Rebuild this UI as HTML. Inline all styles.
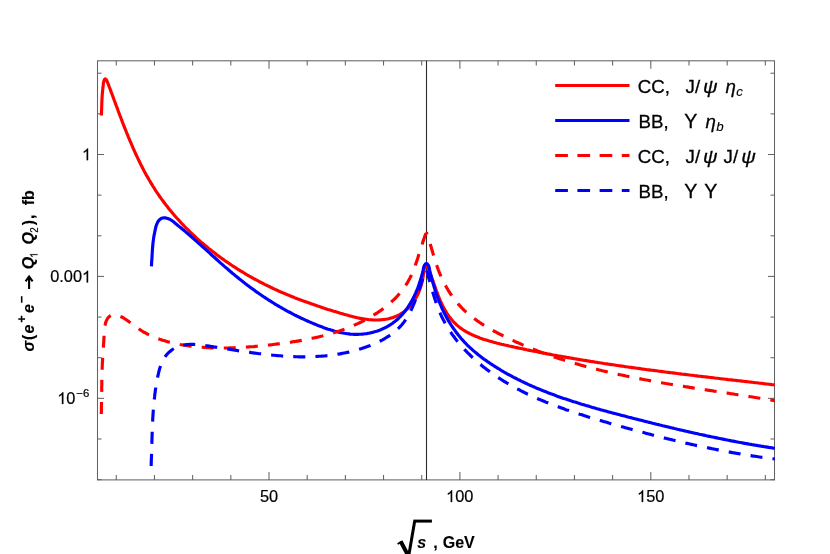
<!DOCTYPE html>
<html><head><meta charset="utf-8"><title>plot</title>
<style>
html,body{margin:0;padding:0;background:#fff;}
body{width:830px;height:554px;overflow:hidden;font-family:"Liberation Sans",sans-serif;}
svg{display:block;will-change:transform;filter:blur(0.35px);}
text{font-family:"Liberation Sans",sans-serif;fill:#000;}
.tl{font-size:16.35px;stroke:#000;stroke-width:0.2px;}
.lg{font-size:18.7px;stroke:#000;stroke-width:0.28px;}
.it{font-style:italic;}
.ax{font-size:16px;font-weight:bold;stroke:#000;stroke-width:0.12px;}
</style></head><body>
<svg width="830" height="554" viewBox="0 0 830 554">
<rect x="0" y="0" width="830" height="554" fill="#fff"/>
<defs><clipPath id="cp"><rect x="97.5" y="60.8" width="677.6" height="419.09999999999997"/></clipPath></defs>
<g stroke="#636363" stroke-width="1.05" fill="none">
<rect x="97.5" y="60.8" width="677.0" height="419.09999999999997"/>
<line x1="116.28" y1="479.90" x2="116.28" y2="475.10"/>
<line x1="116.28" y1="60.80" x2="116.28" y2="65.60"/>
<line x1="154.46" y1="479.90" x2="154.46" y2="475.10"/>
<line x1="154.46" y1="60.80" x2="154.46" y2="65.60"/>
<line x1="192.64" y1="479.90" x2="192.64" y2="475.10"/>
<line x1="192.64" y1="60.80" x2="192.64" y2="65.60"/>
<line x1="230.82" y1="479.90" x2="230.82" y2="475.10"/>
<line x1="230.82" y1="60.80" x2="230.82" y2="65.60"/>
<line x1="269.00" y1="479.90" x2="269.00" y2="471.90"/>
<line x1="269.00" y1="60.80" x2="269.00" y2="68.80"/>
<line x1="307.18" y1="479.90" x2="307.18" y2="475.10"/>
<line x1="307.18" y1="60.80" x2="307.18" y2="65.60"/>
<line x1="345.36" y1="479.90" x2="345.36" y2="475.10"/>
<line x1="345.36" y1="60.80" x2="345.36" y2="65.60"/>
<line x1="383.54" y1="479.90" x2="383.54" y2="475.10"/>
<line x1="383.54" y1="60.80" x2="383.54" y2="65.60"/>
<line x1="421.72" y1="479.90" x2="421.72" y2="475.10"/>
<line x1="421.72" y1="60.80" x2="421.72" y2="65.60"/>
<line x1="459.90" y1="479.90" x2="459.90" y2="471.90"/>
<line x1="459.90" y1="60.80" x2="459.90" y2="68.80"/>
<line x1="498.08" y1="479.90" x2="498.08" y2="475.10"/>
<line x1="498.08" y1="60.80" x2="498.08" y2="65.60"/>
<line x1="536.26" y1="479.90" x2="536.26" y2="475.10"/>
<line x1="536.26" y1="60.80" x2="536.26" y2="65.60"/>
<line x1="574.44" y1="479.90" x2="574.44" y2="475.10"/>
<line x1="574.44" y1="60.80" x2="574.44" y2="65.60"/>
<line x1="612.62" y1="479.90" x2="612.62" y2="475.10"/>
<line x1="612.62" y1="60.80" x2="612.62" y2="65.60"/>
<line x1="650.80" y1="479.90" x2="650.80" y2="471.90"/>
<line x1="650.80" y1="60.80" x2="650.80" y2="68.80"/>
<line x1="688.98" y1="479.90" x2="688.98" y2="475.10"/>
<line x1="688.98" y1="60.80" x2="688.98" y2="65.60"/>
<line x1="727.16" y1="479.90" x2="727.16" y2="475.10"/>
<line x1="727.16" y1="60.80" x2="727.16" y2="65.60"/>
<line x1="765.34" y1="479.90" x2="765.34" y2="475.10"/>
<line x1="765.34" y1="60.80" x2="765.34" y2="65.60"/>
<line x1="97.50" y1="479.62" x2="101.50" y2="479.62"/>
<line x1="774.50" y1="479.62" x2="770.50" y2="479.62"/>
<line x1="97.50" y1="438.98" x2="101.50" y2="438.98"/>
<line x1="774.50" y1="438.98" x2="770.50" y2="438.98"/>
<line x1="97.50" y1="398.34" x2="104.00" y2="398.34"/>
<line x1="774.50" y1="398.34" x2="768.00" y2="398.34"/>
<line x1="97.50" y1="357.70" x2="101.50" y2="357.70"/>
<line x1="774.50" y1="357.70" x2="770.50" y2="357.70"/>
<line x1="97.50" y1="317.06" x2="101.50" y2="317.06"/>
<line x1="774.50" y1="317.06" x2="770.50" y2="317.06"/>
<line x1="97.50" y1="276.42" x2="104.00" y2="276.42"/>
<line x1="774.50" y1="276.42" x2="768.00" y2="276.42"/>
<line x1="97.50" y1="235.78" x2="101.50" y2="235.78"/>
<line x1="774.50" y1="235.78" x2="770.50" y2="235.78"/>
<line x1="97.50" y1="195.14" x2="101.50" y2="195.14"/>
<line x1="774.50" y1="195.14" x2="770.50" y2="195.14"/>
<line x1="97.50" y1="154.50" x2="104.00" y2="154.50"/>
<line x1="774.50" y1="154.50" x2="768.00" y2="154.50"/>
<line x1="97.50" y1="113.86" x2="101.50" y2="113.86"/>
<line x1="774.50" y1="113.86" x2="770.50" y2="113.86"/>
<line x1="97.50" y1="73.22" x2="101.50" y2="73.22"/>
<line x1="774.50" y1="73.22" x2="770.50" y2="73.22"/>
</g>
<line x1="426.5" y1="60.8" x2="426.5" y2="479.9" stroke="#2a2a2a" stroke-width="1.08"/>
<g clip-path="url(#cp)" fill="none" stroke-width="3.15" stroke-linejoin="round">
<path d="M101.4,115.5 L101.4,114.4 L101.5,113.4 L101.5,112.3 L101.5,111.2 L101.6,110.1 L101.6,109.1 L101.7,108.0 L101.7,106.9 L101.7,105.9 L101.8,104.8 L101.8,103.7 L101.8,102.6 L101.9,101.6 L101.9,100.5 L102.0,99.4 L102.0,98.4 L102.1,97.3 L102.2,96.2 L102.2,95.2 L102.3,94.1 L102.4,93.0 L102.5,92.0 L102.6,90.9 L102.7,89.8 L102.8,88.8 L102.9,87.7 L103.0,86.6 L103.2,85.6 L103.3,84.5 L103.3,84.3 L103.3,84.0 L103.4,83.6 L103.4,83.1 L103.5,82.6 L103.7,82.1 L103.8,81.5 L103.9,80.9 L104.1,80.4 L104.3,79.9 L104.5,79.5 L104.7,79.2 L105.0,79.0 L105.2,78.9 L105.5,79.0 L105.8,79.2 L106.0,79.5 L106.3,79.9 L106.6,80.3 L106.9,80.8 L107.1,81.4 L107.4,81.9 L107.6,82.5 L107.8,83.0 L108.0,83.5 L108.1,83.9 L108.3,84.2 L108.3,84.4 L108.4,84.5 L108.9,85.9 L109.4,87.3 L110.0,88.7 L110.5,90.1 L111.0,91.5 L111.5,92.9 L112.1,94.3 L112.6,95.7 L113.1,97.1 L113.6,98.5 L114.1,100.0 L114.7,101.4 L115.2,102.8 L115.7,104.2 L116.2,105.6 L116.8,107.0 L117.3,108.4 L117.8,109.8 L118.3,111.3 L118.9,112.7 L119.4,114.1 L119.9,115.5 L120.5,116.9 L121.0,118.3 L121.5,119.7 L122.1,121.2 L122.6,122.6 L123.2,124.0 L123.7,125.4 L124.3,126.8 L124.8,128.2 L125.4,129.6 L126.0,131.0 L126.5,132.4 L127.1,133.8 L127.7,135.2 L128.2,136.6 L128.8,138.0 L129.4,139.4 L130.0,140.8 L130.6,142.2 L131.2,143.6 L131.8,145.0 L132.4,146.4 L133.0,147.8 L133.6,149.2 L134.2,150.5 L134.8,151.9 L135.4,153.3 L136.1,154.7 L136.7,156.0 L137.4,157.4 L138.0,158.7 L138.7,160.1 L139.3,161.5 L140.0,162.8 L140.6,164.2 L141.3,165.5 L142.0,166.8 L142.7,168.2 L143.4,169.5 L144.1,170.9 L144.8,172.2 L145.5,173.5 L146.2,174.8 L147.0,176.1 L147.7,177.4 L148.5,178.7 L149.2,180.0 L150.0,181.3 L150.7,182.6 L151.5,183.9 L152.3,185.2 L153.1,186.5 L153.9,187.7 L154.7,189.0 L155.5,190.3 L156.3,191.5 L157.2,192.8 L158.0,194.0 L158.8,195.2 L159.7,196.5 L160.6,197.7 L161.4,198.9 L162.3,200.1 L163.2,201.3 L164.1,202.5 L165.0,203.7 L165.9,204.9 L166.9,206.1 L167.8,207.3 L168.7,208.5 L169.7,209.7 L170.6,210.8 L171.6,212.0 L172.5,213.1 L173.5,214.3 L174.5,215.4 L175.5,216.6 L176.5,217.7 L177.5,218.8 L178.5,219.9 L179.5,221.0 L180.5,222.1 L181.6,223.3 L182.6,224.3 L183.6,225.4 L184.7,226.5 L185.7,227.6 L186.8,228.7 L187.9,229.7 L189.0,230.8 L190.0,231.9 L191.1,232.9 L192.2,233.9 L193.3,235.0 L194.4,236.0 L195.5,237.0 L196.6,238.1 L197.8,239.1 L198.9,240.1 L200.0,241.1 L201.2,242.1 L202.3,243.1 L203.5,244.0 L204.6,245.0 L205.8,246.0 L207.0,247.0 L208.1,247.9 L209.3,248.9 L210.5,249.8 L211.7,250.8 L212.9,251.7 L214.1,252.6 L215.3,253.5 L216.5,254.5 L217.7,255.4 L218.9,256.3 L220.1,257.2 L221.3,258.1 L222.6,258.9 L223.8,259.8 L225.0,260.7 L226.3,261.6 L227.5,262.4 L228.8,263.3 L230.0,264.1 L231.3,265.0 L232.5,265.8 L233.8,266.6 L235.1,267.4 L236.4,268.3 L237.6,269.1 L238.9,269.9 L240.2,270.7 L241.5,271.5 L242.8,272.2 L244.1,273.0 L245.4,273.8 L246.7,274.6 L248.0,275.3 L249.3,276.1 L250.6,276.8 L251.9,277.5 L253.2,278.3 L254.5,279.0 L255.8,279.7 L257.2,280.4 L258.5,281.1 L259.8,281.8 L261.1,282.5 L262.5,283.2 L263.8,283.9 L265.1,284.6 L266.5,285.2 L267.8,285.9 L269.2,286.5 L270.5,287.2 L271.9,287.8 L273.2,288.5 L274.6,289.1 L275.9,289.7 L277.3,290.3 L278.6,291.0 L280.0,291.6 L281.4,292.2 L282.7,292.8 L284.1,293.3 L285.5,293.9 L286.8,294.5 L288.2,295.1 L289.6,295.6 L291.0,296.2 L292.4,296.8 L293.7,297.3 L295.1,297.9 L296.5,298.4 L297.9,299.0 L299.3,299.5 L300.7,300.0 L302.1,300.5 L303.5,301.1 L304.9,301.6 L306.3,302.1 L307.8,302.6 L309.2,303.1 L310.6,303.6 L312.0,304.1 L313.4,304.6 L314.9,305.1 L316.3,305.6 L317.7,306.1 L319.2,306.5 L320.6,307.0 L322.0,307.5 L323.5,308.0 L324.9,308.4 L326.4,308.9 L327.8,309.4 L329.3,309.8 L330.8,310.3 L332.2,310.7 L333.7,311.2 L335.1,311.6 L336.6,312.1 L338.1,312.5 L339.6,313.0 L341.1,313.4 L342.5,313.8 L344.0,314.3 L345.5,314.7 L347.0,315.1 L348.5,315.5 L350.0,315.9 L351.5,316.3 L353.0,316.7 L354.5,317.1 L356.0,317.4 L357.5,317.8 L359.0,318.1 L360.5,318.4 L362.0,318.6 L363.5,318.9 L365.0,319.1 L366.5,319.3 L367.9,319.5 L369.4,319.7 L370.9,319.8 L372.4,319.9 L373.9,320.0 L375.4,320.0 L376.9,320.0 L378.4,320.0 L379.8,319.9 L381.3,319.8 L382.8,319.6 L384.2,319.5 L385.7,319.2 L387.1,319.0 L388.6,318.7 L390.0,318.3 L391.4,317.9 L392.8,317.5 L394.2,317.0 L395.5,316.5 L396.9,315.9 L398.2,315.3 L399.5,314.6 L400.7,313.9 L402.0,313.1 L403.2,312.3 L404.4,311.4 L405.5,310.5 L406.6,309.6 L407.7,308.6 L408.8,307.5 L409.8,306.5 L410.8,305.3 L411.7,304.2 L412.6,303.0 L413.5,301.8 L414.4,300.5 L415.2,299.2 L416.0,297.9 L416.7,296.5 L417.4,295.2 L418.1,293.8 L418.7,292.3 L419.3,290.9 L419.8,289.4 L420.3,288.0 L420.8,286.5 L421.3,285.0 L421.7,283.5 L422.0,282.0 L422.4,280.5 L422.7,279.0 L423.0,277.5 L423.2,276.0 L423.4,274.5 L423.6,273.1 L423.7,271.6 L423.7,271.3 L423.7,270.9 L423.7,270.5 L423.8,270.0 L424.0,269.6 L424.1,269.1 L424.3,268.6 L424.6,268.1 L424.8,267.6 L425.1,267.2 L425.4,266.9 L425.7,266.6 L426.0,266.4 L426.3,266.3 L426.6,266.3 L426.9,266.4 L427.2,266.6 L427.5,266.9 L427.7,267.3 L428.0,267.7 L428.3,268.1 L428.5,268.6 L428.7,269.1 L428.9,269.6 L429.0,270.1 L429.2,270.5 L429.2,271.0 L429.3,271.3 L429.3,271.6 L429.9,272.9 L430.4,274.3 L431.0,275.7 L431.5,277.1 L432.0,278.5 L432.6,279.9 L433.1,281.3 L433.6,282.7 L434.1,284.2 L434.6,285.6 L435.1,287.1 L435.6,288.5 L436.1,290.0 L436.6,291.4 L437.2,292.9 L437.7,294.3 L438.3,295.8 L438.8,297.2 L439.4,298.6 L440.0,300.0 L440.6,301.4 L441.2,302.8 L441.9,304.2 L442.6,305.6 L443.3,306.9 L444.0,308.2 L444.7,309.6 L445.5,310.9 L446.2,312.1 L447.0,313.4 L447.9,314.6 L448.7,315.9 L449.6,317.1 L450.5,318.2 L451.4,319.4 L452.4,320.5 L453.3,321.6 L454.3,322.6 L455.4,323.7 L456.4,324.7 L457.5,325.6 L458.7,326.6 L459.8,327.5 L461.0,328.4 L462.2,329.2 L463.4,330.0 L464.7,330.8 L466.0,331.6 L467.3,332.3 L468.6,333.0 L469.9,333.7 L471.3,334.4 L472.7,335.0 L474.1,335.6 L475.5,336.2 L476.9,336.8 L478.3,337.3 L479.7,337.9 L481.2,338.4 L482.6,338.9 L484.1,339.4 L485.5,339.8 L487.0,340.3 L488.5,340.8 L489.9,341.2 L491.4,341.6 L492.9,342.0 L494.3,342.4 L495.8,342.8 L497.3,343.2 L498.7,343.5 L500.2,343.9 L501.7,344.3 L503.2,344.6 L504.6,345.0 L506.1,345.3 L507.6,345.6 L509.1,346.0 L510.5,346.3 L512.0,346.6 L513.5,346.9 L515.0,347.3 L516.4,347.6 L517.9,347.9 L519.4,348.2 L520.9,348.5 L522.4,348.8 L523.8,349.1 L525.3,349.4 L526.8,349.8 L528.3,350.1 L529.8,350.4 L531.2,350.7 L532.7,351.0 L534.2,351.3 L535.7,351.5 L537.2,351.8 L538.6,352.1 L540.1,352.4 L541.6,352.7 L543.1,353.0 L544.6,353.3 L546.0,353.6 L547.5,353.9 L549.0,354.1 L550.5,354.4 L552.0,354.7 L553.5,355.0 L555.0,355.2 L556.4,355.5 L557.9,355.8 L559.4,356.0 L560.9,356.3 L562.4,356.6 L563.9,356.8 L565.3,357.1 L566.8,357.4 L568.3,357.6 L569.8,357.9 L571.3,358.1 L572.8,358.4 L574.3,358.7 L575.8,358.9 L577.2,359.2 L578.7,359.4 L580.2,359.7 L581.7,359.9 L583.2,360.2 L584.7,360.4 L586.2,360.6 L587.7,360.9 L589.2,361.1 L590.6,361.4 L592.1,361.6 L593.6,361.8 L595.1,362.1 L596.6,362.3 L598.1,362.6 L599.6,362.8 L601.1,363.0 L602.6,363.2 L604.1,363.5 L605.6,363.7 L607.0,363.9 L608.5,364.2 L610.0,364.4 L611.5,364.6 L613.0,364.8 L614.5,365.0 L616.0,365.3 L617.5,365.5 L619.0,365.7 L620.5,365.9 L622.0,366.1 L623.5,366.3 L625.0,366.6 L626.4,366.8 L627.9,367.0 L629.4,367.2 L630.9,367.4 L632.4,367.6 L633.9,367.8 L635.4,368.0 L636.9,368.2 L638.4,368.4 L639.9,368.6 L641.4,368.9 L642.9,369.1 L644.4,369.3 L645.9,369.5 L647.4,369.7 L648.9,369.9 L650.4,370.1 L651.9,370.3 L653.4,370.4 L654.9,370.6 L656.4,370.8 L657.8,371.0 L659.3,371.2 L660.8,371.4 L662.3,371.6 L663.8,371.8 L665.3,372.0 L666.8,372.2 L668.3,372.4 L669.8,372.6 L671.3,372.8 L672.8,372.9 L674.3,373.1 L675.8,373.3 L677.3,373.5 L678.8,373.7 L680.3,373.9 L681.8,374.1 L683.3,374.2 L684.8,374.4 L686.3,374.6 L687.8,374.8 L689.3,375.0 L690.8,375.2 L692.3,375.3 L693.8,375.5 L695.3,375.7 L696.8,375.9 L698.3,376.1 L699.8,376.2 L701.3,376.4 L702.8,376.6 L704.3,376.8 L705.8,376.9 L707.3,377.1 L708.8,377.3 L710.3,377.5 L711.8,377.6 L713.3,377.8 L714.8,378.0 L716.3,378.2 L717.8,378.3 L719.3,378.5 L720.8,378.7 L722.3,378.9 L723.8,379.0 L725.3,379.2 L726.8,379.4 L728.3,379.6 L729.8,379.7 L731.3,379.9 L732.8,380.1 L734.3,380.3 L735.8,380.4 L737.3,380.6 L738.8,380.8 L740.3,380.9 L741.8,381.1 L743.3,381.3 L744.8,381.5 L746.3,381.6 L747.8,381.8 L749.3,382.0 L750.8,382.1 L752.3,382.3 L753.8,382.5 L755.3,382.7 L756.8,382.8 L758.3,383.0 L759.8,383.2 L761.3,383.3 L762.8,383.5 L764.3,383.7 L765.8,383.9 L767.3,384.0 L768.8,384.2 L770.3,384.4 L771.8,384.6 L773.3,384.7 L774.8,384.9" stroke="#ff0000"/>
<path d="M151.4,266.4 L151.5,265.2 L151.6,264.0 L151.6,262.9 L151.7,261.7 L151.8,260.5 L151.9,259.3 L151.9,258.1 L152.0,257.0 L152.1,255.8 L152.1,254.6 L152.2,253.4 L152.3,252.2 L152.3,251.1 L152.4,249.9 L152.5,248.7 L152.6,247.5 L152.7,246.3 L152.8,245.2 L152.9,244.0 L153.0,242.8 L153.2,241.6 L153.3,240.5 L153.5,239.3 L153.6,238.1 L153.8,236.9 L154.0,235.8 L154.2,234.6 L154.5,233.5 L154.7,232.3 L154.9,231.4 L155.1,230.4 L155.3,229.3 L155.6,228.2 L155.8,227.1 L156.1,226.0 L156.5,224.9 L156.9,223.9 L157.4,222.8 L157.9,221.8 L158.5,220.9 L159.2,220.1 L160.0,219.3 L160.8,218.7 L161.7,218.3 L162.7,218.0 L163.6,217.8 L164.7,217.8 L165.7,217.9 L166.8,218.2 L167.8,218.5 L168.9,218.9 L169.9,219.4 L170.9,220.0 L171.9,220.6 L172.8,221.3 L173.7,221.9 L174.5,222.6 L175.2,223.3 L176.4,224.2 L177.6,225.2 L178.7,226.1 L179.9,227.1 L181.1,228.0 L182.2,229.0 L183.4,229.9 L184.5,230.9 L185.7,231.9 L186.8,232.9 L188.0,233.8 L189.1,234.8 L190.3,235.8 L191.4,236.8 L192.5,237.8 L193.7,238.8 L194.8,239.8 L195.9,240.8 L197.1,241.8 L198.2,242.8 L199.3,243.8 L200.5,244.8 L201.6,245.8 L202.7,246.9 L203.8,247.9 L205.0,248.9 L206.1,249.9 L207.2,250.9 L208.3,251.9 L209.5,252.9 L210.6,254.0 L211.7,255.0 L212.8,256.0 L214.0,257.0 L215.1,258.0 L216.2,259.0 L217.3,260.0 L218.5,261.1 L219.6,262.1 L220.7,263.1 L221.9,264.1 L223.0,265.1 L224.1,266.1 L225.3,267.1 L226.4,268.1 L227.6,269.0 L228.7,270.0 L229.8,271.0 L231.0,272.0 L232.1,273.0 L233.3,273.9 L234.5,274.9 L235.6,275.9 L236.8,276.8 L238.0,277.8 L239.1,278.7 L240.3,279.6 L241.5,280.6 L242.7,281.5 L243.9,282.4 L245.0,283.4 L246.2,284.3 L247.4,285.2 L248.6,286.1 L249.8,287.0 L251.0,287.9 L252.3,288.8 L253.5,289.6 L254.7,290.5 L255.9,291.4 L257.1,292.3 L258.4,293.1 L259.6,294.0 L260.8,294.8 L262.1,295.7 L263.3,296.5 L264.6,297.3 L265.8,298.2 L267.1,299.0 L268.3,299.8 L269.6,300.6 L270.9,301.4 L272.1,302.2 L273.4,303.0 L274.7,303.8 L276.0,304.6 L277.3,305.3 L278.6,306.1 L279.9,306.9 L281.2,307.6 L282.5,308.4 L283.8,309.1 L285.1,309.8 L286.4,310.6 L287.7,311.3 L289.1,312.0 L290.4,312.7 L291.7,313.4 L293.1,314.1 L294.4,314.8 L295.8,315.5 L297.1,316.2 L298.5,316.8 L299.9,317.5 L301.2,318.2 L302.6,318.8 L304.0,319.4 L305.4,320.1 L306.8,320.7 L308.1,321.3 L309.5,321.9 L311.0,322.5 L312.4,323.1 L313.8,323.7 L315.2,324.3 L316.6,324.9 L318.0,325.5 L319.5,326.0 L320.9,326.6 L322.4,327.1 L323.8,327.7 L325.3,328.2 L326.7,328.7 L328.2,329.2 L329.6,329.6 L331.1,330.1 L332.6,330.5 L334.0,331.0 L335.5,331.4 L337.0,331.7 L338.5,332.1 L339.9,332.4 L341.4,332.7 L342.9,333.0 L344.4,333.3 L345.9,333.5 L347.4,333.7 L348.9,333.9 L350.3,334.1 L351.8,334.2 L353.3,334.3 L354.8,334.3 L356.3,334.4 L357.8,334.4 L359.3,334.3 L360.8,334.2 L362.3,334.1 L363.7,334.0 L365.2,333.8 L366.7,333.6 L368.1,333.3 L369.6,333.1 L371.1,332.7 L372.5,332.4 L373.9,332.0 L375.4,331.6 L376.8,331.2 L378.2,330.7 L379.6,330.2 L380.9,329.6 L382.3,329.0 L383.6,328.4 L385.0,327.8 L386.3,327.1 L387.6,326.4 L388.9,325.6 L390.1,324.9 L391.4,324.0 L392.6,323.2 L393.8,322.3 L395.0,321.4 L396.1,320.5 L397.3,319.5 L398.4,318.5 L399.4,317.5 L400.5,316.4 L401.5,315.3 L402.5,314.2 L403.5,313.0 L404.5,311.9 L405.4,310.7 L406.3,309.4 L407.2,308.2 L408.1,306.9 L408.9,305.6 L409.7,304.3 L410.5,303.0 L411.3,301.7 L412.1,300.3 L412.8,298.9 L413.5,297.6 L414.2,296.2 L414.8,294.8 L415.5,293.3 L416.1,291.9 L416.7,290.5 L417.3,289.1 L417.9,287.6 L418.4,286.2 L418.9,284.7 L419.4,283.3 L419.9,281.8 L420.4,280.4 L420.8,278.9 L421.2,277.5 L421.6,276.1 L422.0,274.6 L422.4,273.2 L422.7,271.8 L423.1,270.4 L423.4,269.0 L423.4,268.7 L423.4,268.3 L423.5,267.9 L423.7,267.4 L423.8,266.9 L424.0,266.4 L424.2,265.9 L424.5,265.4 L424.7,265.0 L425.0,264.6 L425.3,264.2 L425.6,263.9 L425.9,263.7 L426.2,263.6 L426.6,263.6 L426.9,263.7 L427.2,263.9 L427.5,264.2 L427.8,264.6 L428.1,265.0 L428.3,265.4 L428.6,265.9 L428.8,266.4 L429.0,266.9 L429.1,267.4 L429.3,267.9 L429.4,268.3 L429.4,268.7 L429.4,269.0 L429.7,270.4 L430.1,271.9 L430.4,273.4 L430.8,274.8 L431.2,276.3 L431.5,277.7 L431.9,279.2 L432.3,280.6 L432.7,282.1 L433.1,283.5 L433.6,285.0 L434.0,286.5 L434.4,287.9 L434.9,289.3 L435.3,290.8 L435.8,292.2 L436.3,293.7 L436.8,295.1 L437.3,296.5 L437.8,298.0 L438.4,299.4 L438.9,300.8 L439.5,302.2 L440.0,303.6 L440.6,305.0 L441.2,306.4 L441.8,307.8 L442.4,309.2 L443.1,310.5 L443.7,311.9 L444.4,313.2 L445.1,314.6 L445.8,315.9 L446.5,317.2 L447.2,318.6 L448.0,319.9 L448.7,321.2 L449.5,322.4 L450.3,323.7 L451.1,325.0 L451.9,326.2 L452.8,327.5 L453.6,328.7 L454.5,329.9 L455.4,331.2 L456.2,332.4 L457.2,333.5 L458.1,334.7 L459.0,335.9 L460.0,337.0 L460.9,338.2 L461.9,339.3 L462.9,340.4 L463.9,341.5 L464.9,342.6 L466.0,343.7 L467.0,344.8 L468.1,345.8 L469.2,346.9 L470.3,347.9 L471.4,348.9 L472.5,349.9 L473.6,350.9 L474.8,351.9 L475.9,352.8 L477.1,353.8 L478.2,354.7 L479.4,355.6 L480.6,356.6 L481.8,357.5 L483.0,358.4 L484.2,359.3 L485.5,360.1 L486.7,361.0 L487.9,361.9 L489.2,362.7 L490.4,363.6 L491.7,364.4 L492.9,365.2 L494.2,366.0 L495.5,366.9 L496.8,367.6 L498.0,368.4 L499.3,369.2 L500.6,370.0 L501.9,370.8 L503.2,371.5 L504.5,372.3 L505.8,373.0 L507.1,373.8 L508.4,374.5 L509.8,375.2 L511.1,375.9 L512.4,376.6 L513.7,377.3 L515.1,378.0 L516.4,378.7 L517.7,379.4 L519.1,380.0 L520.4,380.7 L521.8,381.4 L523.1,382.0 L524.5,382.7 L525.9,383.3 L527.2,383.9 L528.6,384.6 L530.0,385.2 L531.3,385.8 L532.7,386.4 L534.1,387.0 L535.5,387.6 L536.8,388.2 L538.2,388.8 L539.6,389.3 L541.0,389.9 L542.4,390.5 L543.8,391.0 L545.2,391.6 L546.6,392.1 L548.0,392.7 L549.4,393.2 L550.8,393.8 L552.3,394.3 L553.7,394.8 L555.1,395.3 L556.5,395.9 L557.9,396.4 L559.3,396.9 L560.8,397.4 L562.2,397.9 L563.6,398.4 L565.1,398.8 L566.5,399.3 L567.9,399.8 L569.4,400.3 L570.8,400.8 L572.2,401.2 L573.7,401.7 L575.1,402.1 L576.6,402.6 L578.0,403.1 L579.5,403.5 L580.9,404.0 L582.4,404.4 L583.8,404.8 L585.3,405.3 L586.7,405.7 L588.2,406.1 L589.6,406.6 L591.1,407.0 L592.5,407.4 L594.0,407.8 L595.5,408.2 L596.9,408.7 L598.4,409.1 L599.8,409.5 L601.3,409.9 L602.8,410.3 L604.2,410.7 L605.7,411.1 L607.2,411.5 L608.6,411.9 L610.1,412.3 L611.6,412.7 L613.0,413.1 L614.5,413.4 L615.9,413.8 L617.4,414.2 L618.9,414.6 L620.3,415.0 L621.8,415.4 L623.3,415.7 L624.7,416.1 L626.2,416.5 L627.7,416.9 L629.1,417.3 L630.6,417.6 L632.1,418.0 L633.5,418.4 L635.0,418.8 L636.4,419.1 L637.9,419.5 L639.4,419.9 L640.8,420.2 L642.3,420.6 L643.7,421.0 L645.2,421.4 L646.7,421.7 L648.1,422.1 L649.6,422.4 L651.0,422.8 L652.5,423.2 L654.0,423.5 L655.4,423.9 L656.9,424.3 L658.3,424.6 L659.8,425.0 L661.3,425.3 L662.7,425.7 L664.2,426.0 L665.6,426.4 L667.1,426.7 L668.6,427.1 L670.0,427.4 L671.5,427.8 L672.9,428.1 L674.4,428.5 L675.8,428.8 L677.3,429.2 L678.8,429.5 L680.2,429.9 L681.7,430.2 L683.1,430.5 L684.6,430.9 L686.1,431.2 L687.5,431.5 L689.0,431.9 L690.5,432.2 L691.9,432.5 L693.4,432.9 L694.8,433.2 L696.3,433.5 L697.8,433.8 L699.2,434.2 L700.7,434.5 L702.2,434.8 L703.6,435.1 L705.1,435.4 L706.6,435.8 L708.0,436.1 L709.5,436.4 L711.0,436.7 L712.4,437.0 L713.9,437.3 L715.4,437.6 L716.8,437.9 L718.3,438.2 L719.8,438.5 L721.2,438.8 L722.7,439.1 L724.2,439.4 L725.7,439.7 L727.1,440.0 L728.6,440.3 L730.1,440.6 L731.6,440.9 L733.0,441.1 L734.5,441.4 L736.0,441.7 L737.5,442.0 L739.0,442.3 L740.4,442.5 L741.9,442.8 L743.4,443.1 L744.9,443.4 L746.4,443.6 L747.9,443.9 L749.4,444.2 L750.8,444.4 L752.3,444.7 L753.8,444.9 L755.3,445.2 L756.8,445.4 L758.3,445.7 L759.8,445.9 L761.3,446.2 L762.8,446.4 L764.3,446.7 L765.8,446.9 L767.3,447.1 L768.8,447.4 L770.3,447.6 L771.8,447.8 L773.3,448.1 L774.8,448.3" stroke="#0000ff"/>
<path d="M101.3,414.0 L101.3,412.5 L101.4,411.1 L101.4,409.6 L101.4,408.1 L101.4,406.6 L101.5,405.1 L101.5,403.6 L101.5,402.1 L101.5,400.6 L101.5,399.1 L101.6,397.5 L101.6,396.0 L101.6,394.5 L101.6,393.0 L101.7,391.4 L101.7,389.9 L101.7,388.4 L101.7,386.8 L101.8,385.3 L101.8,383.8 L101.8,382.3 L101.8,380.7 L101.9,379.2 L101.9,377.7 L101.9,376.1 L102.0,374.6 L102.0,373.1 L102.1,371.6 L102.1,370.1 L102.2,368.6 L102.2,367.1 L102.3,365.6 L102.3,364.1 L102.4,362.6 L102.5,361.1 L102.6,359.7 L102.6,358.2 L102.7,356.8 L102.8,355.3 L102.9,353.9 L103.0,352.4 L103.1,351.0 L103.2,349.5 L103.3,348.1 L103.4,346.6 L103.5,345.1 L103.6,343.6 L103.7,342.1 L103.8,340.6 L103.9,339.0 L104.0,337.4 L104.1,335.8 L104.1,334.1 L104.2,332.4 L104.4,330.8 L104.5,329.1 L104.7,327.5 L105.0,325.9 L105.3,324.3 L105.6,322.8 L106.1,321.4 L106.7,320.1 L107.3,318.9 L108.1,317.8 L109.0,316.8 L110.0,316.0 L111.1,315.4 L112.2,314.9 L113.5,314.7 L114.8,314.7 L116.2,314.9 L117.6,315.3 L119.0,315.8 L120.3,316.4 L121.7,317.0 L123.0,317.7 L124.3,318.5 L125.6,319.3 L126.9,320.2 L128.2,321.1 L129.4,322.0 L130.7,322.9 L131.9,323.8 L133.1,324.8 L134.4,325.7 L135.6,326.6 L136.9,327.5 L138.1,328.4 L139.4,329.3 L140.7,330.2 L142.0,331.0 L143.3,331.8 L144.6,332.5 L145.9,333.2 L147.2,334.0 L148.6,334.6 L150.0,335.3 L151.3,335.9 L152.7,336.5 L154.1,337.1 L155.5,337.7 L156.9,338.2 L158.3,338.8 L159.7,339.3 L161.2,339.7 L162.6,340.2 L164.0,340.6 L165.5,341.1 L166.9,341.5 L168.4,341.9 L169.9,342.2 L171.3,342.6 L172.8,342.9 L174.3,343.3 L175.7,343.6 L177.2,343.9 L178.7,344.2 L180.2,344.5 L181.6,344.7 L183.1,345.0 L184.6,345.2 L186.1,345.5 L187.6,345.7 L189.1,345.9 L190.6,346.1 L192.0,346.3 L193.5,346.5 L195.0,346.6 L196.5,346.8 L198.0,346.9 L199.5,347.1 L201.0,347.2 L202.5,347.3 L204.0,347.4 L205.5,347.5 L207.0,347.6 L208.5,347.7 L210.0,347.8 L211.5,347.8 L213.0,347.9 L214.5,347.9 L216.0,348.0 L217.5,348.0 L219.0,348.0 L220.5,348.0 L222.0,348.0 L223.5,348.0 L225.0,348.0 L226.5,348.0 L228.0,348.0 L229.5,347.9 L231.0,347.9 L232.6,347.8 L234.1,347.8 L235.6,347.7 L237.1,347.7 L238.6,347.6 L240.1,347.5 L241.6,347.4 L243.1,347.3 L244.6,347.2 L246.1,347.1 L247.6,347.0 L249.1,346.9 L250.6,346.8 L252.2,346.7 L253.7,346.6 L255.2,346.4 L256.7,346.3 L258.2,346.1 L259.7,346.0 L261.2,345.8 L262.7,345.7 L264.2,345.5 L265.7,345.4 L267.2,345.2 L268.7,345.0 L270.2,344.9 L271.7,344.7 L273.2,344.5 L274.7,344.3 L276.3,344.1 L277.8,343.9 L279.3,343.8 L280.8,343.6 L282.3,343.4 L283.8,343.2 L285.3,342.9 L286.7,342.7 L288.2,342.5 L289.7,342.3 L291.2,342.1 L292.7,341.8 L294.2,341.6 L295.7,341.4 L297.2,341.1 L298.7,340.9 L300.2,340.6 L301.7,340.4 L303.1,340.1 L304.6,339.8 L306.1,339.5 L307.6,339.2 L309.1,338.9 L310.5,338.6 L312.0,338.3 L313.5,338.0 L314.9,337.7 L316.4,337.4 L317.9,337.0 L319.3,336.7 L320.8,336.3 L322.2,336.0 L323.7,335.6 L325.1,335.2 L326.6,334.8 L328.0,334.4 L329.5,334.0 L330.9,333.6 L332.4,333.2 L333.8,332.7 L335.2,332.3 L336.7,331.8 L338.1,331.3 L339.5,330.9 L340.9,330.4 L342.3,329.9 L343.8,329.4 L345.2,328.8 L346.6,328.3 L348.0,327.8 L349.4,327.2 L350.8,326.6 L352.2,326.1 L353.6,325.5 L354.9,324.9 L356.3,324.3 L357.7,323.6 L359.1,323.0 L360.4,322.3 L361.8,321.7 L363.2,321.0 L364.5,320.3 L365.9,319.6 L367.2,318.9 L368.6,318.1 L369.9,317.4 L371.2,316.6 L372.5,315.8 L373.8,315.0 L375.1,314.2 L376.4,313.4 L377.7,312.6 L378.9,311.7 L380.2,310.9 L381.4,310.0 L382.6,309.1 L383.9,308.2 L385.1,307.3 L386.2,306.3 L387.4,305.4 L388.6,304.4 L389.7,303.5 L390.8,302.5 L391.9,301.4 L393.0,300.4 L394.1,299.4 L395.2,298.3 L396.2,297.3 L397.2,296.2 L398.2,295.1 L399.2,293.9 L400.2,292.8 L401.1,291.7 L402.1,290.5 L403.0,289.3 L403.8,288.1 L404.7,286.9 L405.5,285.6 L406.3,284.4 L407.1,283.1 L407.9,281.8 L408.6,280.5 L409.3,279.2 L410.0,277.9 L410.7,276.5 L411.3,275.2 L411.9,273.8 L412.5,272.4 L413.1,271.0 L413.7,269.6 L414.2,268.2 L414.8,266.8 L415.3,265.3 L415.8,263.9 L416.3,262.4 L416.8,261.0 L417.3,259.5 L417.8,258.0 L418.2,256.6 L418.7,255.1 L419.2,253.7 L419.6,252.2 L420.1,250.7 L420.5,249.3 L421.0,247.8 L421.4,246.4 L421.9,244.9 L422.4,243.5 L422.8,242.0 L423.3,240.6 L423.8,239.2 L424.3,237.8 L424.8,236.4 L425.3,235.0 L425.9,233.7 L426.4,232.3" stroke="#ff0000" stroke-dasharray="12 10.13"/>
<path d="M426.4,232.3 L426.9,233.7 L427.4,235.1 L427.9,236.5 L428.3,238.0 L428.8,239.4 L429.2,240.8 L429.7,242.2 L430.1,243.7 L430.5,245.1 L431.0,246.5 L431.4,248.0 L431.8,249.4 L432.2,250.9 L432.7,252.3 L433.1,253.8 L433.5,255.2 L433.9,256.7 L434.4,258.1 L434.8,259.5 L435.3,261.0 L435.8,262.4 L436.2,263.9 L436.7,265.3 L437.2,266.7 L437.7,268.1 L438.2,269.6 L438.8,271.0 L439.3,272.4 L439.9,273.8 L440.5,275.2 L441.1,276.6 L441.7,278.0 L442.4,279.4 L443.0,280.8 L443.7,282.1 L444.4,283.5 L445.1,284.8 L445.9,286.2 L446.6,287.5 L447.4,288.8 L448.1,290.1 L448.9,291.4 L449.7,292.7 L450.6,294.0 L451.4,295.2 L452.3,296.5 L453.2,297.7 L454.1,298.9 L455.0,300.1 L455.9,301.3 L456.9,302.5 L457.9,303.6 L458.8,304.7 L459.9,305.8 L460.9,306.9 L461.9,308.0 L463.0,309.1 L464.0,310.1 L465.1,311.1 L466.2,312.1 L467.4,313.1 L468.5,314.1 L469.6,315.0 L470.8,316.0 L472.0,316.9 L473.2,317.8 L474.4,318.7 L475.6,319.6 L476.8,320.5 L478.0,321.4 L479.3,322.2 L480.5,323.0 L481.8,323.9 L483.1,324.7 L484.3,325.5 L485.6,326.3 L486.9,327.0 L488.2,327.8 L489.5,328.6 L490.9,329.3 L492.2,330.1 L493.5,330.8 L494.8,331.5 L496.2,332.2 L497.5,333.0 L498.9,333.7 L500.2,334.3 L501.6,335.0 L502.9,335.7 L504.3,336.4 L505.6,337.1 L507.0,337.7 L508.4,338.4 L509.7,339.0 L511.1,339.7 L512.5,340.3 L513.9,340.9 L515.2,341.6 L516.6,342.2 L518.0,342.8 L519.4,343.4 L520.8,344.0 L522.1,344.6 L523.5,345.2 L524.9,345.8 L526.3,346.4 L527.7,347.0 L529.1,347.5 L530.5,348.1 L531.9,348.7 L533.3,349.2 L534.7,349.8 L536.1,350.3 L537.5,350.9 L538.9,351.4 L540.3,351.9 L541.7,352.5 L543.1,353.0 L544.5,353.5 L546.0,354.0 L547.4,354.5 L548.8,355.0 L550.2,355.5 L551.6,356.0 L553.1,356.5 L554.5,357.0 L555.9,357.5 L557.3,357.9 L558.8,358.4 L560.2,358.9 L561.6,359.3 L563.1,359.8 L564.5,360.3 L565.9,360.7 L567.4,361.1 L568.8,361.6 L570.2,362.0 L571.7,362.5 L573.1,362.9 L574.6,363.3 L576.0,363.7 L577.5,364.1 L578.9,364.6 L580.4,365.0 L581.8,365.4 L583.3,365.8 L584.7,366.2 L586.2,366.6 L587.6,367.0 L589.1,367.3 L590.5,367.7 L592.0,368.1 L593.5,368.5 L594.9,368.9 L596.4,369.2 L597.8,369.6 L599.3,370.0 L600.8,370.3 L602.2,370.7 L603.7,371.0 L605.2,371.4 L606.6,371.7 L608.1,372.1 L609.6,372.4 L611.1,372.7 L612.5,373.1 L614.0,373.4 L615.5,373.7 L616.9,374.1 L618.4,374.4 L619.9,374.7 L621.4,375.0 L622.9,375.3 L624.3,375.6 L625.8,376.0 L627.3,376.3 L628.8,376.6 L630.3,376.9 L631.7,377.2 L633.2,377.5 L634.7,377.8 L636.2,378.1 L637.7,378.3 L639.2,378.6 L640.6,378.9 L642.1,379.2 L643.6,379.5 L645.1,379.8 L646.6,380.0 L648.1,380.3 L649.6,380.6 L651.1,380.9 L652.6,381.1 L654.0,381.4 L655.5,381.7 L657.0,381.9 L658.5,382.2 L660.0,382.5 L661.5,382.7 L663.0,383.0 L664.5,383.2 L666.0,383.5 L667.5,383.7 L669.0,384.0 L670.5,384.2 L672.0,384.5 L673.5,384.7 L674.9,385.0 L676.4,385.2 L677.9,385.5 L679.4,385.7 L680.9,386.0 L682.4,386.2 L683.9,386.4 L685.4,386.7 L686.9,386.9 L688.4,387.1 L689.9,387.4 L691.4,387.6 L692.9,387.9 L694.4,388.1 L695.9,388.3 L697.4,388.6 L698.9,388.8 L700.4,389.0 L701.9,389.2 L703.4,389.5 L704.9,389.7 L706.4,389.9 L707.9,390.2 L709.4,390.4 L710.9,390.6 L712.4,390.8 L713.9,391.1 L715.3,391.3 L716.8,391.5 L718.3,391.8 L719.8,392.0 L721.3,392.2 L722.8,392.4 L724.3,392.7 L725.8,392.9 L727.3,393.1 L728.8,393.3 L730.3,393.6 L731.8,393.8 L733.3,394.0 L734.8,394.3 L736.2,394.5 L737.7,394.7 L739.2,394.9 L740.7,395.2 L742.2,395.4 L743.7,395.6 L745.2,395.9 L746.7,396.1 L748.2,396.3 L749.6,396.6 L751.1,396.8 L752.6,397.0 L754.1,397.3 L755.6,397.5 L757.1,397.8 L758.5,398.0 L760.0,398.2 L761.5,398.5 L763.0,398.7 L764.5,399.0 L765.9,399.2 L767.4,399.5 L768.9,399.7 L770.4,399.9 L771.9,400.2 L773.3,400.4 L774.8,400.7" stroke="#ff0000" stroke-dasharray="12 10.13" stroke-dashoffset="9.84"/>
<path d="M151.1,466.0 L151.2,464.5 L151.2,463.0 L151.3,461.4 L151.3,459.9 L151.4,458.4 L151.5,456.9 L151.5,455.4 L151.6,453.8 L151.6,452.3 L151.6,450.8 L151.7,449.3 L151.7,447.8 L151.8,446.3 L151.8,444.8 L151.9,443.3 L151.9,441.8 L151.9,440.3 L152.0,438.8 L152.0,437.3 L152.1,435.8 L152.1,434.3 L152.2,432.8 L152.2,431.3 L152.3,429.8 L152.3,428.3 L152.4,426.8 L152.4,425.3 L152.5,423.8 L152.6,422.3 L152.7,420.8 L152.7,419.3 L152.8,417.8 L152.9,416.3 L153.0,414.8 L153.1,413.3 L153.2,411.8 L153.3,410.4 L153.4,408.9 L153.5,407.4 L153.6,405.9 L153.8,404.4 L153.9,402.9 L154.1,401.4 L154.2,399.9 L154.4,398.4 L154.6,396.9 L154.7,395.4 L154.9,393.9 L155.1,392.4 L155.3,390.8 L155.5,389.3 L155.8,387.8 L156.0,386.3 L156.2,384.8 L156.5,383.3 L156.8,381.8 L157.0,380.3 L157.3,378.8 L157.6,377.2 L158.0,375.7 L158.3,374.2 L158.6,372.7 L159.0,371.2 L159.4,369.7 L159.8,368.2 L160.3,366.7 L160.8,365.3 L161.3,363.9 L161.9,362.5 L162.5,361.1 L163.2,359.8 L164.0,358.5 L164.8,357.2 L165.7,356.0 L166.6,354.8 L167.6,353.7 L168.6,352.7 L169.7,351.7 L170.9,350.7 L172.1,349.8 L173.3,349.0 L174.5,348.3 L175.8,347.6 L177.1,347.0 L178.4,346.5 L179.7,346.1 L181.1,345.7 L182.4,345.3 L183.8,345.0 L185.2,344.8 L186.6,344.6 L188.1,344.5 L189.5,344.4 L191.0,344.4 L192.4,344.4 L193.9,344.4 L195.4,344.5 L196.9,344.6 L198.4,344.7 L199.9,344.9 L201.4,345.1 L202.9,345.3 L204.5,345.5 L206.0,345.7 L207.5,345.9 L209.0,346.1 L210.6,346.4 L212.1,346.6 L213.6,346.9 L215.2,347.1 L216.7,347.3 L218.2,347.6 L219.7,347.8 L221.3,348.1 L222.8,348.3 L224.3,348.5 L225.8,348.8 L227.4,349.0 L228.9,349.3 L230.4,349.5 L231.9,349.7 L233.5,350.0 L235.0,350.2 L236.5,350.4 L238.0,350.7 L239.5,350.9 L241.1,351.1 L242.6,351.4 L244.1,351.6 L245.6,351.8 L247.1,352.0 L248.7,352.2 L250.2,352.4 L251.7,352.7 L253.2,352.9 L254.7,353.1 L256.2,353.3 L257.7,353.5 L259.3,353.7 L260.8,353.8 L262.3,354.0 L263.8,354.2 L265.3,354.4 L266.8,354.6 L268.3,354.7 L269.8,354.9 L271.3,355.0 L272.8,355.2 L274.3,355.3 L275.9,355.5 L277.4,355.6 L278.9,355.7 L280.4,355.8 L281.9,356.0 L283.4,356.1 L284.9,356.2 L286.4,356.3 L287.9,356.4 L289.4,356.4 L290.9,356.5 L292.4,356.6 L293.9,356.6 L295.4,356.7 L296.8,356.7 L298.3,356.8 L299.8,356.8 L301.3,356.8 L302.8,356.8 L304.3,356.8 L305.8,356.8 L307.3,356.8 L308.8,356.8 L310.3,356.7 L311.7,356.7 L313.2,356.7 L314.7,356.6 L316.2,356.5 L317.7,356.4 L319.2,356.3 L320.6,356.2 L322.1,356.1 L323.6,356.0 L325.1,355.9 L326.6,355.7 L328.0,355.6 L329.5,355.4 L331.0,355.2 L332.5,355.0 L333.9,354.8 L335.4,354.6 L336.9,354.4 L338.3,354.1 L339.8,353.9 L341.3,353.6 L342.7,353.3 L344.2,353.0 L345.7,352.7 L347.1,352.4 L348.6,352.1 L350.0,351.7 L351.5,351.4 L353.0,351.0 L354.4,350.6 L355.9,350.2 L357.3,349.8 L358.8,349.4 L360.2,348.9 L361.7,348.5 L363.1,348.0 L364.6,347.5 L366.0,347.0 L367.5,346.5 L368.9,345.9 L370.4,345.4 L371.8,344.8 L373.2,344.2 L374.7,343.6 L376.1,343.0 L377.5,342.3 L378.9,341.7 L380.3,341.0 L381.6,340.3 L383.0,339.6 L384.3,338.8 L385.6,338.0 L387.0,337.2 L388.2,336.4 L389.5,335.6 L390.8,334.7 L392.0,333.8 L393.2,332.9 L394.4,332.0 L395.5,331.0 L396.7,330.1 L397.8,329.0 L398.8,328.0 L399.9,326.9 L400.9,325.8 L401.9,324.7 L402.8,323.5 L403.7,322.4 L404.6,321.2 L405.5,319.9 L406.3,318.7 L407.1,317.4 L407.9,316.1 L408.7,314.8 L409.4,313.5 L410.1,312.1 L410.8,310.8 L411.4,309.4 L412.1,308.0 L412.7,306.6 L413.3,305.2 L413.9,303.8 L414.5,302.4 L415.0,300.9 L415.6,299.5 L416.1,298.1 L416.6,296.7 L417.2,295.2 L417.7,293.8 L418.1,292.4 L418.6,290.9 L419.1,289.5 L419.6,288.1 L420.1,286.7 L420.6,285.2 L421.0,283.8 L421.5,282.4 L422.0,281.0 L422.5,279.6 L423.0,278.2 L423.6,276.8 L424.1,275.4 L424.6,274.0 L425.2,272.6 L425.8,271.2 L426.4,269.8" stroke="#0000ff" stroke-dasharray="12.1 10.09"/>
<path d="M426.4,269.8 L426.8,271.2 L427.3,272.7 L427.7,274.1 L428.1,275.6 L428.5,277.0 L428.9,278.5 L429.3,279.9 L429.7,281.4 L430.1,282.8 L430.5,284.3 L430.9,285.7 L431.4,287.2 L431.8,288.7 L432.2,290.1 L432.6,291.6 L433.0,293.0 L433.5,294.5 L433.9,296.0 L434.4,297.4 L434.8,298.8 L435.3,300.3 L435.8,301.7 L436.2,303.2 L436.8,304.6 L437.3,306.0 L437.8,307.4 L438.3,308.8 L438.9,310.2 L439.5,311.6 L440.1,313.0 L440.7,314.4 L441.3,315.7 L441.9,317.1 L442.6,318.4 L443.3,319.8 L444.0,321.1 L444.7,322.4 L445.4,323.7 L446.2,325.0 L446.9,326.3 L447.7,327.6 L448.5,328.9 L449.3,330.1 L450.1,331.4 L451.0,332.6 L451.8,333.8 L452.7,335.1 L453.6,336.3 L454.5,337.5 L455.4,338.7 L456.3,339.9 L457.2,341.1 L458.2,342.2 L459.1,343.4 L460.1,344.5 L461.1,345.7 L462.1,346.8 L463.1,347.9 L464.1,349.0 L465.1,350.1 L466.2,351.2 L467.2,352.3 L468.3,353.4 L469.4,354.4 L470.4,355.5 L471.5,356.5 L472.6,357.6 L473.7,358.6 L474.9,359.6 L476.0,360.6 L477.1,361.6 L478.3,362.6 L479.4,363.6 L480.6,364.5 L481.7,365.5 L482.9,366.5 L484.1,367.4 L485.3,368.3 L486.4,369.2 L487.6,370.1 L488.9,371.0 L490.1,371.9 L491.3,372.8 L492.5,373.7 L493.7,374.5 L495.0,375.4 L496.2,376.2 L497.4,377.1 L498.7,377.9 L499.9,378.7 L501.2,379.5 L502.5,380.3 L503.7,381.1 L505.0,381.9 L506.3,382.7 L507.6,383.4 L508.9,384.2 L510.2,384.9 L511.5,385.7 L512.8,386.4 L514.1,387.1 L515.4,387.8 L516.7,388.6 L518.1,389.3 L519.4,389.9 L520.7,390.6 L522.1,391.3 L523.4,392.0 L524.7,392.7 L526.1,393.3 L527.4,394.0 L528.8,394.6 L530.2,395.3 L531.5,395.9 L532.9,396.5 L534.3,397.1 L535.6,397.7 L537.0,398.4 L538.4,399.0 L539.8,399.5 L541.2,400.1 L542.6,400.7 L544.0,401.3 L545.4,401.9 L546.8,402.4 L548.2,403.0 L549.6,403.6 L551.0,404.1 L552.4,404.7 L553.8,405.2 L555.2,405.7 L556.6,406.3 L558.1,406.8 L559.5,407.3 L560.9,407.8 L562.3,408.3 L563.8,408.8 L565.2,409.4 L566.6,409.9 L568.1,410.3 L569.5,410.8 L570.9,411.3 L572.4,411.8 L573.8,412.3 L575.3,412.8 L576.7,413.2 L578.2,413.7 L579.6,414.2 L581.1,414.6 L582.5,415.1 L584.0,415.6 L585.4,416.0 L586.9,416.5 L588.3,416.9 L589.8,417.4 L591.2,417.8 L592.7,418.2 L594.1,418.7 L595.6,419.1 L597.0,419.5 L598.5,420.0 L600.0,420.4 L601.4,420.8 L602.9,421.3 L604.3,421.7 L605.8,422.1 L607.3,422.5 L608.7,423.0 L610.2,423.4 L611.6,423.8 L613.1,424.2 L614.5,424.6 L616.0,425.0 L617.4,425.4 L618.9,425.9 L620.4,426.3 L621.8,426.7 L623.3,427.1 L624.7,427.5 L626.2,427.9 L627.6,428.3 L629.1,428.7 L630.5,429.1 L632.0,429.5 L633.4,429.9 L634.9,430.3 L636.3,430.7 L637.8,431.1 L639.2,431.5 L640.7,431.8 L642.1,432.2 L643.6,432.6 L645.1,433.0 L646.5,433.4 L648.0,433.8 L649.4,434.1 L650.9,434.5 L652.3,434.9 L653.8,435.3 L655.2,435.6 L656.7,436.0 L658.1,436.4 L659.6,436.8 L661.0,437.1 L662.5,437.5 L663.9,437.9 L665.4,438.2 L666.9,438.6 L668.3,438.9 L669.8,439.3 L671.2,439.6 L672.7,440.0 L674.1,440.3 L675.6,440.7 L677.0,441.0 L678.5,441.4 L680.0,441.7 L681.4,442.1 L682.9,442.4 L684.3,442.7 L685.8,443.1 L687.2,443.4 L688.7,443.7 L690.2,444.1 L691.6,444.4 L693.1,444.7 L694.6,445.0 L696.0,445.4 L697.5,445.7 L698.9,446.0 L700.4,446.3 L701.9,446.6 L703.3,446.9 L704.8,447.2 L706.3,447.5 L707.7,447.8 L709.2,448.1 L710.7,448.4 L712.2,448.7 L713.6,449.0 L715.1,449.3 L716.6,449.6 L718.0,449.9 L719.5,450.2 L721.0,450.5 L722.5,450.8 L723.9,451.0 L725.4,451.3 L726.9,451.6 L728.4,451.9 L729.9,452.1 L731.3,452.4 L732.8,452.7 L734.3,452.9 L735.8,453.2 L737.3,453.4 L738.8,453.7 L740.3,453.9 L741.7,454.2 L743.2,454.4 L744.7,454.7 L746.2,454.9 L747.7,455.2 L749.2,455.4 L750.7,455.6 L752.2,455.9 L753.7,456.1 L755.2,456.3 L756.7,456.5 L758.2,456.8 L759.7,457.0 L761.2,457.2 L762.7,457.4 L764.2,457.6 L765.7,457.8 L767.2,458.0 L768.7,458.2 L770.3,458.4 L771.8,458.6 L773.3,458.8 L774.8,459.0" stroke="#0000ff" stroke-dasharray="12 10.14" stroke-dashoffset="21.51"/>
</g>
<!-- tick labels -->
<g class="tl">
<path d="M88.10,160.20 L86.66,160.20 L86.66,151.04 Q86.14,151.54 85.30,152.03 Q84.46,152.53 83.79,152.78 L83.79,151.39 Q84.99,150.82 85.90,150.01 Q86.80,149.21 87.17,148.45 L88.10,148.45 Z" fill="#000" stroke="#000" stroke-width="0.20"/>
<text x="50.19" y="282.40">0</text><text x="59.28" y="282.40">.</text><text x="63.82" y="282.40">0</text><text x="72.92" y="282.40">0</text><path d="M88.10,282.40 L86.66,282.40 L86.66,273.24 Q86.14,273.74 85.30,274.23 Q84.46,274.73 83.79,274.98 L83.79,273.59 Q84.99,273.02 85.90,272.21 Q86.80,271.41 87.17,270.65 L88.10,270.65 Z" fill="#000" stroke="#000" stroke-width="0.20"/>
<path d="M63.36,404.00 L61.92,404.00 L61.92,394.84 Q61.40,395.34 60.56,395.83 Q59.72,396.33 59.05,396.58 L59.05,395.19 Q60.25,394.62 61.15,393.81 Q62.06,393.01 62.43,392.25 L63.36,392.25 Z" fill="#000" stroke="#000" stroke-width="0.20"/><text x="66.36" y="404.00">0</text><text x="76.3" y="397.2" style="font-size:11.4px">−6</text>
<text x="259.91" y="502.10">5</text><text x="269.00" y="502.10">0</text>
<path d="M452.15,502.10 L450.72,502.10 L450.72,492.94 Q450.20,493.44 449.35,493.93 Q448.51,494.43 447.84,494.68 L447.84,493.29 Q449.05,492.72 449.95,491.91 Q450.85,491.11 451.23,490.35 L452.15,490.35 Z" fill="#000" stroke="#000" stroke-width="0.20"/><text x="455.15" y="502.10">0</text><text x="464.25" y="502.10">0</text>
<path d="M643.15,502.10 L641.72,502.10 L641.72,492.94 Q641.20,493.44 640.35,493.93 Q639.51,494.43 638.84,494.68 L638.84,493.29 Q640.05,492.72 640.95,491.91 Q641.85,491.11 642.23,490.35 L643.15,490.35 Z" fill="#000" stroke="#000" stroke-width="0.20"/><text x="646.15" y="502.10">5</text><text x="655.25" y="502.10">0</text>
</g>
<!-- legend -->
<g fill="none" stroke-width="3">
<line x1="555.2" y1="85.4" x2="629.5" y2="85.4" stroke="#ff0000"/>
<line x1="555.2" y1="120.4" x2="629.5" y2="120.4" stroke="#0000ff"/>
<line x1="555.2" y1="155.5" x2="629.5" y2="155.5" stroke="#ff0000" stroke-dasharray="12.7 9.5"/>
<line x1="555.2" y1="190.6" x2="629.5" y2="190.6" stroke="#0000ff" stroke-dasharray="12.7 9.5"/>
</g>
<g class="lg">
<text x="637.8" y="92.8">CC,</text><text x="685.6" y="92.8">J/</text><text class="it" transform="translate(702.9,92.8) scale(1.07,1)">ψ</text><text class="it" x="725.5" y="92.8">η</text><text class="it" x="736.2" y="96.2" style="font-size:13.3px;stroke-width:0.12px">c</text>
<text x="638.6" y="127.8">BB,</text><text transform="translate(684.3,127.8) scale(1.05,1.1)">Υ</text><text class="it" x="705.6" y="127.8">η</text><text class="it" x="716.3" y="131.2" style="font-size:13.3px;stroke-width:0.12px">b</text>
<text x="637.8" y="162.8">CC,</text><text x="685.6" y="162.8">J/</text><text class="it" transform="translate(702.9,162.8) scale(1.07,1)">ψ</text><text x="723.6" y="162.8">J/</text><text class="it" transform="translate(741.2,162.8) scale(1.07,1)">ψ</text>
<text x="638.6" y="197.8">BB,</text><text transform="translate(684.3,197.8) scale(1.05,1.1)">Υ</text><text transform="translate(704.3,197.8) scale(1.05,1.1)">Υ</text>
</g>
<!-- y axis label -->
<g class="ax" transform="translate(33.7,351.5) rotate(-90)">
<text class="it" x="0" y="0">σ</text><text x="11.6" y="0">(</text><text class="it" x="17.9" y="0">e</text>
<text x="28.7" y="-7.4" style="font-size:13px">+</text><text class="it" x="38.4" y="0">e</text><text x="48.3" y="-7.4" style="font-size:13px">−</text>
<path d="M62.5,-4.6 H74.4 M70.2,-8.1 L75.0,-4.6 L70.2,-1.1" stroke="#000" stroke-width="2.1" fill="none"/>
<text class="it" x="82.2" y="0">Q</text><path d="M97.31,3.80 L96.39,3.80 L96.39,-2.08 Q96.06,-1.76 95.51,-1.44 Q94.97,-1.13 94.54,-0.97 L94.54,-1.86 Q95.32,-2.22 95.90,-2.74 Q96.48,-3.26 96.72,-3.75 L97.31,-3.75 Z" fill="#000" stroke="#000" stroke-width="0.20"/>
<text class="it" x="107.0" y="0">Q</text><text x="118.8" y="3.8" style="font-size:10px;font-weight:normal">2</text>
<text x="126.3" y="0">)</text><text x="132.6" y="0">,</text><text x="146.3" y="0">fb</text>
</g>
<!-- x axis label -->
<g class="ax">
<path d="M397.6,544.0 L401.4,541.8" stroke="#000" stroke-width="1.8" fill="none"/>
<path d="M400.6,541.2 L408.4,556" stroke="#000" stroke-width="4.0" fill="none"/>
<path d="M408.7,556 L414.7,521.0" stroke="#000" stroke-width="3.0" fill="none"/>
<path d="M413.4,521.1 H431.9" stroke="#000" stroke-width="3.0" fill="none"/>
<text class="it" x="417.3" y="548.4">s</text><text x="433.3" y="548.4">,</text><text x="442.7" y="548.4">GeV</text>
</g>
</svg>
</body></html>
